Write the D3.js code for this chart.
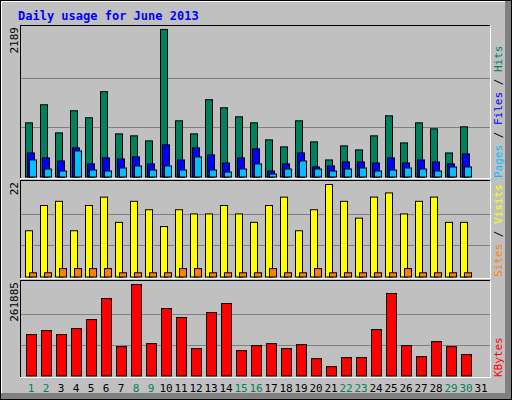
<!DOCTYPE html><html><head><meta charset="utf-8">
<script src="https://cdn.jsdelivr.net/npm/d3@7"></script>
<style>body{margin:0;background:#fff}</style></head><body>
<svg id="c" width="512" height="400"></svg>
<script>
const days = d3.range(1, 32);
const weekend = [1,2,8,9,15,16,22,23,29,30];
const hits  = [804,1072,655,983,879,1266,640,611,536,2189,834,640,1147,1027,893,804,551,447,834,521,253,462,402,611,908,506,804,715,357,745,0];
const files = [357,283,238,432,194,283,268,298,194,477,253,432,328,208,283,417,89,194,357,149,164,223,223,208,283,208,253,223,194,342,0];
const pages = [253,119,89,387,104,89,134,164,104,164,104,298,104,74,119,194,45,119,238,119,89,119,134,89,104,134,119,89,149,149,0];
const visits = [11,17,18,11,17,19,13,18,16,12,16,15,15,17,15,13,17,19,11,16,22,18,14,19,20,15,18,19,13,13,0];
const sites  = [1,1,2,2,2,2,1,1,1,1,2,2,1,1,1,1,2,1,1,2,1,1,1,1,1,2,1,1,1,1,0];
const kbytes = [118500,130000,118500,135700,161500,221700,84100,261885,92700,193100,167300,78400,181600,207400,72600,87000,92700,78400,89800,49700,26800,52600,52600,132900,236100,87000,55400,98400,84100,61200,0];

const svg = d3.select("#c");
const F = "'DejaVu Sans Mono', monospace";
svg.append("rect").attr("width",512).attr("height",400).attr("fill","#c0c0c0");
// bevel
svg.append("rect").attr("x",505).attr("y",0).attr("width",7).attr("height",400).attr("fill","#808080");
svg.append("rect").attr("x",0).attr("y",393).attr("width",512).attr("height",7).attr("fill","#808080");
svg.append("rect").attr("x",0.5).attr("y",0.5).attr("width",511).attr("height",399).attr("fill","none").attr("stroke","#000");
svg.append("line").attr("x1",1.5).attr("x2",1.5).attr("y1",1).attr("y2",393).attr("stroke","#fff");
svg.append("line").attr("x1",1).attr("x2",505).attr("y1",1.5).attr("y2",1.5).attr("stroke","#fff");

svg.append("text").attr("x",18).attr("y",20).attr("font-family",F).attr("font-weight","bold")
  .attr("font-size",12).attr("fill","#0000ff").text("Daily usage for June 2013");

const x = d3.scaleBand().domain(days).range([20,490]).paddingInner(0);
const step = 15, x0 = 25 - 0; // first day slot start
const px = d => 25 + (d-1)*step;

function panel(top, bottom, maxTop){
  svg.append("rect").attr("x",20).attr("y",top).attr("width",470).attr("height",bottom-top).attr("fill","#c0c0c0");
  svg.append("line").attr("x1",20.5).attr("x2",20.5).attr("y1",top).attr("y2",bottom).attr("stroke","#000");
  svg.append("line").attr("x1",20).attr("x2",490).attr("y1",top+0.5).attr("y2",top+0.5).attr("stroke","#000");
  svg.append("line").attr("x1",490.5).attr("x2",490.5).attr("y1",top).attr("y2",bottom+1).attr("stroke","#fff");
  svg.append("line").attr("x1",20).attr("x2",491).attr("y1",bottom+0.5).attr("y2",bottom+0.5).attr("stroke","#fff");
  const base = bottom-1.5;
  const y = d3.scaleLinear().domain([0,1]).range([base, maxTop]);
  [1/3,2/3].forEach(f=>{
    const gy = Math.round(base - (base-top-3)*f)+0.5;
    svg.append("line").attr("x1",21).attr("x2",490).attr("y1",gy).attr("y2",gy).attr("stroke","#808080");
  });
  return base;
}
function bars(data, max, base, topY, off, w, color){
  const y = d3.scaleLinear().domain([0,max]).range([base, topY]);
  svg.append("g").selectAll("rect").data(days.filter((d,i)=>data[i]>0)).join("rect")
    .attr("x", d=>px(d)+off+0.5).attr("width", w)
    .attr("y", d=>y(data[d-1])+0.5).attr("height", d=>base-y(data[d-1]))
    .attr("fill",color).attr("stroke","#000").attr("stroke-width",1);
}
// panel 1
let b1 = panel(25,178,29);
bars(hits,2189,b1,29,0,7,"#00805c");
bars(files,2189,b1,29,2,7,"#0000ff");
bars(pages,2189,b1,29,4,7,"#00c0ff");
// panel 2
let b2 = panel(180,278,184);
bars(visits,22,b2,184,0,7,"#ffff00");
bars(sites,22,b2,184,4,7,"#ff8000");
// panel 3
let b3 = panel(280,377,284);
bars(kbytes,261885,b3,284,1,10,"#ff0000");

// left max labels
function vlabel(txt, xx, yy, anchor){
  svg.append("text").attr("transform",`translate(${xx},${yy}) rotate(-90)`).attr("text-anchor",anchor)
    .attr("font-family",F).attr("font-size",11).attr("fill","#000").text(txt);
}
vlabel("2189",18,27,"end");
vlabel("22",18,182,"end");
vlabel("261885",18,282,"end");

// right legends
function rlegend(parts, yy){
  const t = svg.append("text").attr("transform",`translate(502,${yy}) rotate(-90)`)
    .attr("font-family",F).attr("font-size",11);
  parts.forEach(([s,c])=>t.append("tspan").attr("fill",c).text(s));
}
rlegend([["Pages","#00c0ff"],[" / ","#000"],["Files","#0000ff"],[" / ","#000"],["Hits","#00805c"]],178);
rlegend([["Sites","#ff8000"],[" / ","#000"],["Visits","#ffff00"]],277);
rlegend([["KBytes","#ff0000"]],377);

// day labels
svg.append("g").selectAll("text").data(days).join("text")
  .attr("x", d=>px(d)+6).attr("y",392).attr("text-anchor","middle")
  .attr("font-family",F).attr("font-size",11)
  .attr("fill", d=>weekend.includes(d)?"#00805c":"#000").text(d=>d);
</script></body></html>
